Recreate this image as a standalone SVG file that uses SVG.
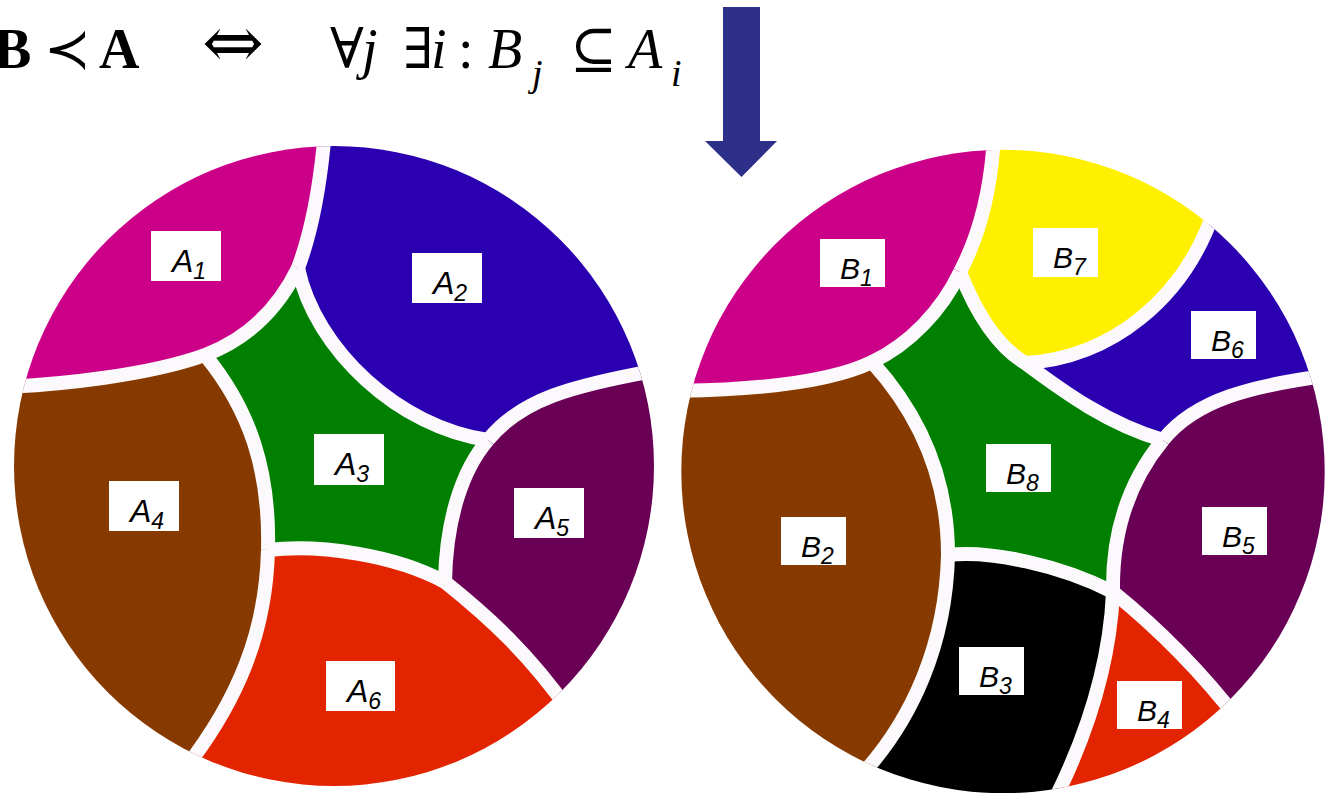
<svg xmlns="http://www.w3.org/2000/svg" width="1332" height="793" viewBox="0 0 1332 793">
<style>
.f{font-family:"Liberation Serif","DejaVu Serif",serif;font-size:56px;fill:#000}
.lb{fill:#fff}
.lt{font-family:"Liberation Sans",Arial,sans-serif;font-style:italic;font-size:32px;fill:#000}
.lt2{font-family:"Liberation Sans",Arial,sans-serif;font-style:italic;font-size:30px;fill:#000}
.sub{font-size:23px}
.gap{fill:none;stroke:#fbf9fb;stroke-width:14}
</style>
<defs>
<clipPath id="clipL"><circle cx="334" cy="466" r="320"/></clipPath>
<clipPath id="clipR"><circle cx="1003" cy="471.5" r="321.7"/></clipPath>
</defs>
<rect width="1332" height="793" fill="#fff"/>

<g id="formula">
<text class="f" y="68"><tspan x="-6" font-weight="bold">B</tspan><tspan x="44">≺</tspan><tspan x="99" font-weight="bold">A</tspan><tspan x="202" font-family="'DejaVu Serif',serif" font-size="74">⇔</tspan><tspan x="330">∀</tspan><tspan x="362" font-style="italic">j</tspan><tspan x="403">∃</tspan><tspan x="431" font-style="italic">i</tspan><tspan x="458">:</tspan><tspan x="488" font-style="italic">B</tspan><tspan x="532" y="86" font-style="italic" font-size="38">j</tspan><tspan x="570" y="68">⊆</tspan><tspan x="628" font-style="italic">A</tspan><tspan x="671" y="86" font-style="italic" font-size="38">i</tspan></text>
</g>

<g id="arrow">
<path d="M723,7 L760,7 L760,141 L777,141 L741.5,177 L705,141 L723,141 Z" fill="#2d2f88"/>
</g>

<g id="left-circle">
<g clip-path="url(#clipL)">
<g id="A1">
<path d="M-10,130 L325,130 Q318,215 298,268 C280,305 250,338 205,355 C150,375 60,385 0,387 L-10,387 Z" fill="#cc0088"/>
</g>
<g id="A2">
<path d="M325,130 Q318,215 298,268 C315,350 400,428 488,440 C520,400 570,385 670,368 L670,130 Z" fill="#2a00b0"/>
</g>
<g id="A3">
<path d="M298,268 C315,350 400,428 488,440 C462,470 446,520 445,582 C395,555 320,544 268,550 C270,470 250,410 205,355 C250,338 280,305 298,268 Z" fill="#007f00"/>
</g>
<g id="A4">
<path d="M-10,387 L0,387 C60,385 150,375 205,355 C250,410 270,470 268,550 C266,630 240,700 180,775 L-10,800 Z" fill="#873a00"/>
</g>
<g id="A5">
<path d="M488,440 C520,400 570,385 670,368 L670,715 L570,712 C530,655 490,618 445,582 C446,520 462,470 488,440 Z" fill="#690055"/>
</g>
<g id="A6">
<path d="M268,550 C320,544 395,555 445,582 C490,618 530,655 570,712 L570,800 L180,800 L180,775 C240,700 266,630 268,550 Z" fill="#e32400"/>
</g>
</g>
<g id="left-gaps" clip-path="url(#clipL)">
<path class="gap" d="M325,130 Q318,215 298,268"/>
<path class="gap" d="M0,387 C60,385 150,375 205,355 C250,338 280,305 298,268"/>
<path class="gap" d="M298,268 C315,350 400,428 488,440"/>
<path class="gap" d="M488,440 C520,400 570,385 670,368"/>
<path class="gap" d="M205,355 C250,410 270,470 268,550"/>
<path class="gap" d="M268,550 C266,630 240,700 180,775"/>
<path class="gap" d="M268,550 C320,544 395,555 445,582"/>
<path class="gap" d="M445,582 C490,618 530,655 570,712"/>
<path class="gap" d="M488,440 C462,470 446,520 445,582"/>
</g>
<g id="left-labels">
<rect class="lb" x="151" y="231" width="70" height="50"/><text class="lt" x="172" y="272">A<tspan class="sub" y="279">1</tspan></text>
<rect class="lb" x="412" y="253" width="70" height="50"/><text class="lt" x="433" y="294">A<tspan class="sub" y="301">2</tspan></text>
<rect class="lb" x="314" y="434" width="70" height="51"/><text class="lt" x="335" y="475">A<tspan class="sub" y="482">3</tspan></text>
<rect class="lb" x="109" y="481" width="70" height="50"/><text class="lt" x="130" y="522">A<tspan class="sub" y="529">4</tspan></text>
<rect class="lb" x="514" y="488" width="70" height="50"/><text class="lt" x="535" y="529">A<tspan class="sub" y="536">5</tspan></text>
<rect class="lb" x="326" y="661" width="69" height="50"/><text class="lt" x="347" y="702">A<tspan class="sub" y="709">6</tspan></text>
</g>
</g>

<g id="right-circle">
<g clip-path="url(#clipR)">
<g id="B1">
<path d="M660,135 L994,135 Q990,215 960,272 C942,310 910,344 872,362 C835,380 770,390 670,391 L660,391 Z" fill="#cc0088"/>
</g>
<g id="B7">
<path d="M994,135 Q990,215 960,272 C975,310 995,345 1025,363 C1110,358 1185,300 1215,208 L1215,135 Z" fill="#fff000"/>
</g>
<g id="B6">
<path d="M1215,208 C1185,300 1110,358 1025,363 C1065,393 1110,425 1163,440 C1195,400 1250,385 1340,374 L1340,208 Z" fill="#2a00b0"/>
</g>
<g id="B8">
<path d="M960,272 C975,310 995,345 1025,363 C1065,393 1110,425 1163,440 C1130,480 1112,530 1113,592 C1060,565 990,550 948,555 C948,480 920,415 872,362 C910,344 942,310 960,272 Z" fill="#007f00"/>
</g>
<g id="B5">
<path d="M1163,440 C1195,400 1250,385 1340,374 L1340,722 L1240,722 C1200,670 1160,630 1113,592 C1112,530 1130,480 1163,440 Z" fill="#690055"/>
</g>
<g id="B4">
<path d="M1113,592 C1160,630 1200,670 1240,722 L1240,810 L1052,810 L1052,805 C1090,730 1110,660 1113,592 Z" fill="#e32400"/>
</g>
<g id="B3">
<path d="M948,555 C990,550 1060,565 1113,592 C1110,660 1090,730 1052,805 L1052,810 L855,810 L855,782 C915,720 946,640 948,555 Z" fill="#000"/>
</g>
<g id="B2">
<path d="M660,391 L670,391 C770,390 835,380 872,362 C920,415 948,480 948,555 C946,640 915,720 855,782 L855,810 L660,810 Z" fill="#873a00"/>
</g>
</g>
<g id="right-gaps" clip-path="url(#clipR)">
<path class="gap" d="M994,135 Q990,215 960,272"/>
<path class="gap" d="M670,391 C770,390 835,380 872,362 C910,344 942,310 960,272"/>
<path class="gap" d="M960,272 C975,310 995,345 1025,363 C1065,393 1110,425 1163,440"/>
<path class="gap" d="M1215,208 C1185,300 1110,358 1025,363"/>
<path class="gap" d="M1163,440 C1195,400 1250,385 1340,374"/>
<path class="gap" d="M1163,440 C1130,480 1112,530 1113,592"/>
<path class="gap" d="M948,555 C990,550 1060,565 1113,592"/>
<path class="gap" d="M1113,592 C1110,660 1090,730 1052,805"/>
<path class="gap" d="M1113,592 C1160,630 1200,670 1240,722"/>
<path class="gap" d="M872,362 C920,415 948,480 948,555"/>
<path class="gap" d="M948,555 C946,640 915,720 855,782"/>
</g>
<g id="right-labels">
<rect class="lb" x="820" y="239" width="65" height="48"/><text class="lt2" x="840" y="279">B<tspan class="sub" y="286">1</tspan></text>
<rect class="lb" x="1033" y="228" width="65" height="49"/><text class="lt2" x="1053" y="268">B<tspan class="sub" y="275">7</tspan></text>
<rect class="lb" x="1191" y="311" width="65" height="48"/><text class="lt2" x="1211" y="351">B<tspan class="sub" y="358">6</tspan></text>
<rect class="lb" x="986" y="444" width="65" height="48"/><text class="lt2" x="1006" y="484">B<tspan class="sub" y="491">8</tspan></text>
<rect class="lb" x="781" y="517" width="65" height="48"/><text class="lt2" x="801" y="557">B<tspan class="sub" y="564">2</tspan></text>
<rect class="lb" x="1202" y="507" width="65" height="48"/><text class="lt2" x="1222" y="547">B<tspan class="sub" y="554">5</tspan></text>
<rect class="lb" x="959" y="647" width="65" height="48"/><text class="lt2" x="979" y="687">B<tspan class="sub" y="694">3</tspan></text>
<rect class="lb" x="1117" y="681" width="65" height="48"/><text class="lt2" x="1137" y="721">B<tspan class="sub" y="728">4</tspan></text>
</g>
</g>
</svg>
